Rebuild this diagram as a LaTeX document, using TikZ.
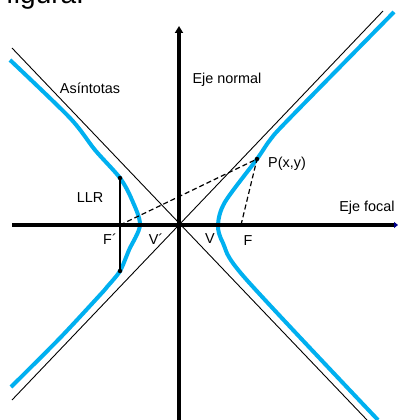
\documentclass[tikz,border=0pt]{standalone}
\usepackage{fontspec}
\setmainfont{Liberation Sans}
\usetikzlibrary{arrows.meta}
\definecolor{hypblue}{RGB}{0,176,240}
\definecolor{tipblue}{RGB}{0,0,140}
\begin{document}
\begin{tikzpicture}[x=1pt,y=-1pt,
  lbl/.style={font=\fontsize{14.4}{16}\selectfont, inner sep=0pt},
  axisline/.style={line width=4pt},
  asym/.style={line width=0.9pt},
  branch/.style={draw=hypblue, line width=4pt},
  dot/.style={circle, fill=black, inner sep=0pt, minimum size=4.5pt},
  dashline/.style={line width=1.2pt, dash pattern=on 5pt off 3pt}]
\useasboundingbox (0,0) rectangle (399,420);
\fill[white] (0,0) rectangle (399,420);
\begin{scope}
\clip (0,0) rectangle (399,420);
% cut-off text at top
\node[anchor=base west, font=\fontsize{28}{30}\selectfont, inner sep=0pt] (fig) at (6,4) {figura.};
% asymptotes
\coordinate (a1s) at (12,48); \coordinate (a1e) at (367,420);
\coordinate (a2s) at (12,400); \coordinate (a2e) at (383,11);
\draw[asym] (a1s) -- (a1e);
\draw[asym] (a2s) -- (a2e);
% hyperbola branches
\draw[branch] plot[smooth, tension=0.5] coordinates {(10,60) (70,118) (95,150) (120,178) (132,200) (140,225) (129,250) (120,271) (107,287) (100,295) (60,338) (11,387)};
\draw[branch] plot[smooth, tension=0.5] coordinates {(394,12) (288,120) (270,140) (257,159) (225,202) (218,225) (223,243) (245,278) (378,420)};
% axes
\coordinate (xs) at (12,225); \coordinate (xe) at (398,225);
\coordinate (ys) at (179,422); \coordinate (ye) at (179,26);
\draw[axisline, -{Triangle[length=4pt,width=6pt,color=tipblue]}] (xs) -- (xe);
\draw[axisline, -{Triangle[length=7pt,width=8pt]}] (ys) -- (ye);
% focal points, latus rectum, point P
\coordinate (Fp) at (120,225);
\coordinate (F) at (241,225);
\node[dot] (L1) at (120,178) {};
\node[dot] (L2) at (120,271) {};
\node[dot] (P) at (257,159) {};
\draw[line width=1.3pt] (L1.center) -- (L2.center);
\draw[dashline] (Fp) -- (P.center);
\draw[dashline] (F) -- (P.center);
% labels
\node[lbl] (tAsi) at (90,88) {Asíntotas};
\node[lbl] (tEn) at (227,80) {Eje normal};
\node[lbl] (tLLR) at (90,198) {LLR};
\node[lbl] (tFp) at (110,239) {F´};
\node[lbl] (tVp) at (156,239) {V´};
\node[lbl] (tV) at (210,239) {V};
\node[lbl] (tF) at (248,241) {F};
\node[lbl] (tP) at (287,164) {P(x,y)};
\node[lbl] (tEf) at (367,208) {Eje focal};
\end{scope}
\end{tikzpicture}
\end{document}
